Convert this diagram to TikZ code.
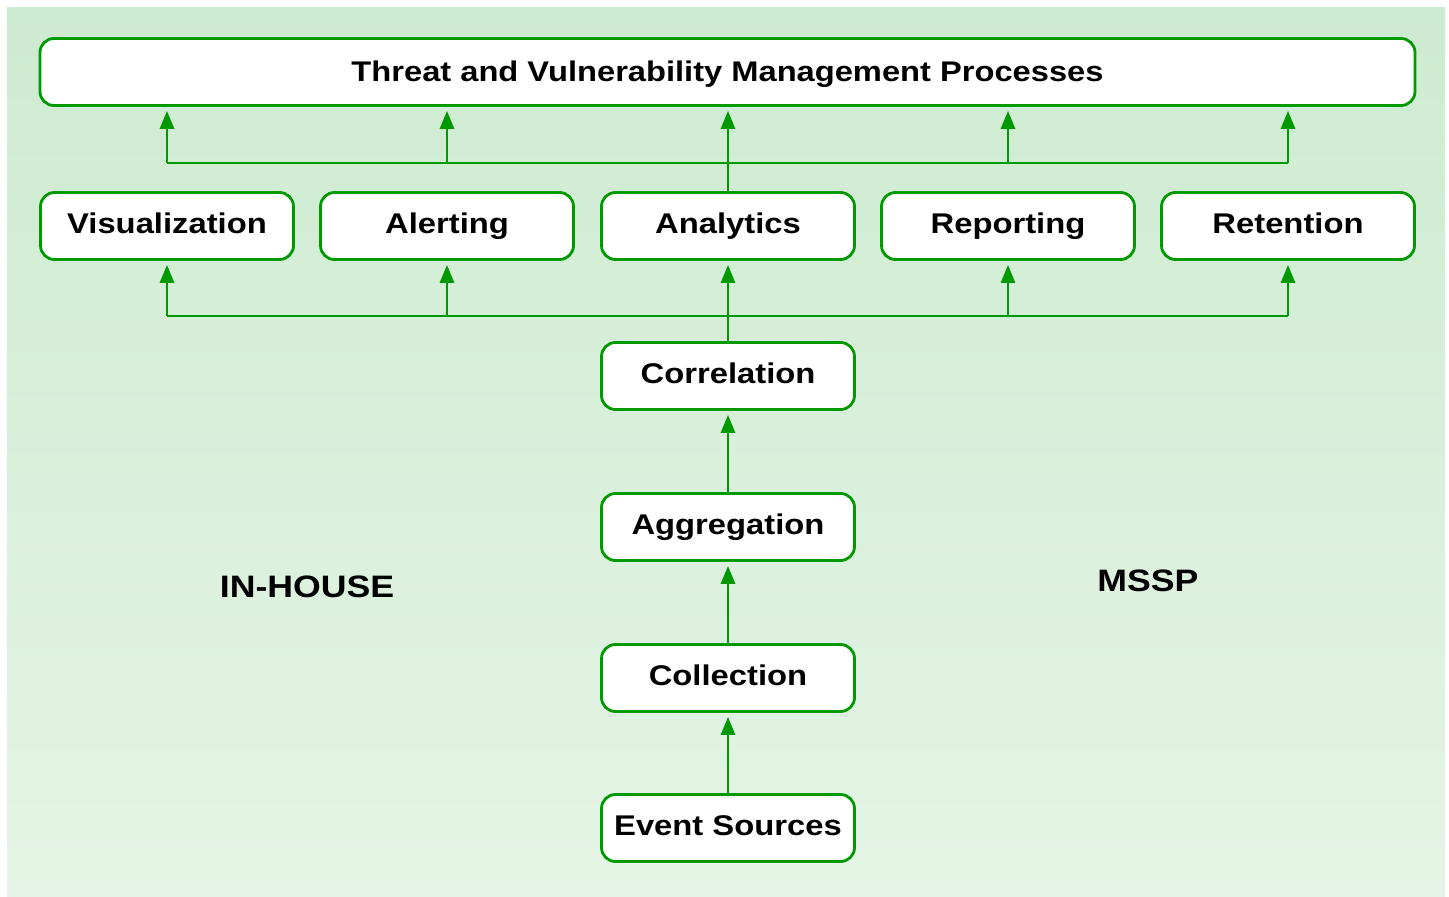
\documentclass[tikz,border=0pt]{standalone}
\usepackage{fontspec}
\setmainfont{Liberation Sans}[FakeStretch=1.15]
\usetikzlibrary{arrows.meta}
\definecolor{gr}{RGB}{0,153,0}
\definecolor{bgtop}{RGB}{205,235,208}
\definecolor{bgbot}{RGB}{229,244,230}
\tikzset{
  box/.style={draw=gr, line width=2.8pt, rounded corners=14pt, fill=white, minimum width=253pt, minimum height=67pt, inner sep=0pt, font=\fontsize{28.5}{34}\selectfont\bfseries, text height=20.4pt, text depth=4.6pt},
  conn/.style={draw=gr, line width=2.9pt},
  arr/.style={conn, -{Triangle[length=18pt,width=14pt]}, shorten >=4pt},
  side/.style={font=\fontsize{31}{36}\selectfont\bfseries, text height=22pt, text depth=0pt, inner sep=0pt}
}
\begin{document}
\begin{tikzpicture}[x=1pt,y=-1pt]
\useasboundingbox (0,0) rectangle (1449,897);
\shade[top color=bgtop, bottom color=bgbot] (7,7) rectangle (1445,897);
\node[box, minimum width=1375pt, font=\fontsize{28.4}{32}\selectfont\bfseries, text height=20pt, text depth=1pt] (top) at (727.5,72) {Threat and Vulnerability Management Processes};
\node[box] (vis) at (167,226) {Visualization};
\node[box] (ale) at (447,226) {Alerting};
\node[box] (ana) at (728,226) {Analytics};
\node[box] (rep) at (1008,226) {Reporting};
\node[box] (ret) at (1288,226) {Retention};
\node[box] (cor) at (728,376) {Correlation};
\node[box] (agg) at (728,527) {Aggregation};
\node[box] (col) at (728,678) {Collection};
\node[box] (evt) at (728,828) {Event Sources};
\node[side] (inh) at (307,586) {IN-HOUSE};
\node[side] (mssp) at (1148,580) {MSSP};
\coordinate (ub) at (728,163);
\coordinate (lb) at (728,316);
% upper bus
\draw[conn] (vis.center |- ub) -- (ret.center |- ub);
\foreach \n in {vis,ale,rep,ret}{
  \draw[arr] (\n.center |- ub) -- (\n.center |- top.south);
}
\draw[arr] (ana.north) -- (ana.north |- top.south);
% lower bus
\draw[conn] (vis.center |- lb) -- (ret.center |- lb);
\foreach \n in {vis,ale,rep,ret}{
  \draw[arr] (\n.center |- lb) -- (\n.south);
}
\draw[arr] (cor.north) -- (ana.south);
\draw[arr] (agg.north) -- (cor.south);
\draw[arr] (col.north) -- (agg.south);
\draw[arr] (evt.north) -- (col.south);
\end{tikzpicture}
\end{document}
